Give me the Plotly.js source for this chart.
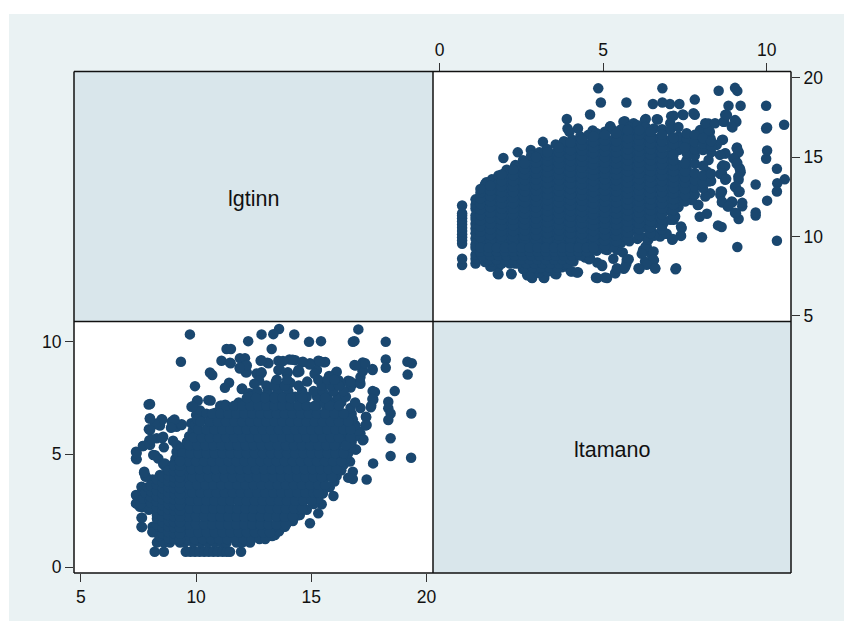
<!DOCTYPE html>
<html><head><meta charset="utf-8">
<script src="https://cdn.plot.ly/plotly-3.0.1.min.js"></script>
<style>html,body{margin:0;padding:0;background:#fff}</style></head>
<body><div id="chart" style="width:844px;height:621px"></div>
<script>
const varNames = ["lgtinn", "ltamano"];
const xTicks = [5, 10, 15, 20];
const yTicks = [0, 5, 10];

// dense core: ltamano level followed by the lgtinn values read at that level
const coreLevels = [0.69,1.1,1.39,1.6,1.8,2.05,2.3,2.55,2.8,3.05,3.3,3.55,3.8,4.05,4.3,4.55,4.8,5.05,5.3,5.55,5.8,6.05,6.3,6.55,6.8,7.05,7.3,7.55,7.8,8.05,8.3];
const coreLgtinn = [
 [8.2,8.6,9.55,9.75,9.95,10.15,10.35,10.55,10.75,10.95,11.15,11.33,11.47,11.95],
 [8.3,8.6,8.86,9.3,9.5,9.88,10.2,10.5,10.8,11.1,11.32,11.76,12.0,12.34],
 [8.4,8.85,9.3,9.8,10.25,10.7,11.15,11.6,12.05,12.5,12.95,13.3],
 [8.45,9.05,9.5,9.95,10.4,10.85,11.3,11.75,12.2,12.65,13.1,13.6],
 [8.4,8.85,9.3,9.75,10.2,10.65,11.1,11.55,12.0,12.45,12.9,13.35,13.85],
 [8.5,9.05,9.5,9.95,10.4,10.85,11.3,11.75,12.2,12.65,13.1,13.55,14.0,14.2],
 [8.3,8.8,9.25,9.7,10.15,10.6,11.05,11.5,11.95,12.4,12.85,13.3,13.75,14.2,14.4],
 [7.95,8.45,9.0,9.45,9.9,10.35,10.8,11.25,11.7,12.15,12.6,13.05,13.5,13.95,14.4,14.8],
 [7.6,8.2,8.75,9.2,9.65,10.1,10.55,11.0,11.45,11.9,12.35,12.8,13.25,13.7,14.15,14.6,15.1],
 [7.7,8.0,8.5,8.95,9.4,9.85,10.3,10.75,11.2,11.65,12.1,12.55,13.0,13.45,13.9,14.35,14.8,15.3],
 [7.8,8.3,8.75,9.2,9.65,10.1,10.55,11.0,11.45,11.9,12.35,12.8,13.25,13.7,14.15,14.6,15.05,15.5],
 [7.9,8.5,8.95,9.4,9.85,10.3,10.75,11.2,11.65,12.1,12.55,13.0,13.45,13.9,14.35,14.8,15.25,15.8],
 [8.25,8.7,9.2,9.65,10.1,10.55,11.0,11.45,11.9,12.35,12.8,13.25,13.7,14.15,14.6,15.05,15.5,16.0],
 [8.6,9.0,9.45,9.9,10.35,10.8,11.25,11.7,12.15,12.6,13.05,13.5,13.95,14.4,14.85,15.3,15.75,16.1],
 [8.9,9.25,9.7,10.15,10.6,11.05,11.5,11.95,12.4,12.85,13.3,13.75,14.2,14.65,15.1,15.55,16.0,16.3],
 [9.0,9.5,9.95,10.4,10.85,11.3,11.75,12.2,12.65,13.1,13.55,14.0,14.45,14.9,15.35,15.8,16.4],
 [9.1,9.3,9.75,10.2,10.65,11.1,11.55,12.0,12.45,12.9,13.35,13.8,14.25,14.7,15.15,15.6,16.05,16.5],
 [9.2,9.55,10.0,10.45,10.9,11.35,11.8,12.25,12.7,13.15,13.6,14.05,14.5,14.95,15.4,15.85,16.3,16.6],
 [9.35,9.8,10.25,10.7,11.15,11.6,12.05,12.5,12.95,13.4,13.85,14.3,14.75,15.2,15.65,16.1,16.7],
 [9.6,10.0,10.45,10.9,11.35,11.8,12.25,12.7,13.15,13.6,14.05,14.5,14.95,15.4,15.85,16.3,16.75],
 [9.7,10.2,10.65,11.1,11.55,12.0,12.45,12.9,13.35,13.8,14.25,14.7,15.15,15.6,16.05,16.5,16.9],
 [9.85,10.4,10.85,11.3,11.75,12.2,12.65,13.1,13.55,14.0,14.45,14.9,15.35,15.8,16.25,16.7,17.0],
 [9.95,10.6,11.05,11.5,11.95,12.4,12.85,13.3,13.75,14.2,14.65,15.1,15.55,16.0,16.45,16.9],
 [10.05,10.8,11.25,11.7,12.15,12.6,13.05,13.5,13.95,14.4,14.85,15.3,15.75,16.2,16.8],
 [10.45,11.0,11.5,11.95,12.4,12.85,13.3,13.75,14.2,14.65,15.1,15.55,16.0,16.4,16.75],
 [11.05,11.6,12.1,12.55,13.0,13.45,13.9,14.35,14.75,15.2,15.65,16.1,16.7],
 [11.85,12.3,12.75,13.2,13.65,14.05,14.5,15.45,15.9,16.3,16.9],
 [12.35,12.9,13.35,13.8,14.3,14.8,15.25,15.7,16.15,16.5],
 [12.65,13.1,13.55,14.0,14.6,15.1,15.5,15.95,16.4],
 [13.05,13.4,13.85,14.45,15.45,15.85,16.2],
 [13.5,13.95,15.3,15.7,16.0]
];

// second pass through the solid area, between the levels above
const fillLevels = [1.25,1.55,1.9,2.25,2.6,2.95,3.3,3.65,4.0,4.35,4.7,5.05,5.4,5.75,6.1,6.45,6.8,7.15,7.5];
const fillLgtinn = [
 [8.9,9.25,9.6,9.95,10.3,10.65,11.0,11.35,11.7,12.05,12.4,12.75,13.0],
 [8.7,9.05,9.4,9.75,10.1,10.45,10.8,11.15,11.5,11.85,12.2,12.55,12.9,13.2],
 [8.6,8.95,9.3,9.65,10.0,10.35,10.7,11.05,11.4,11.75,12.1,12.45,12.8,13.15,13.5,13.9],
 [8.6,8.95,9.3,9.65,10.0,10.35,10.7,11.05,11.4,11.75,12.1,12.45,12.8,13.15,13.5,13.85,14.2],
 [8.3,8.65,9.0,9.35,9.7,10.05,10.4,10.75,11.1,11.45,11.8,12.15,12.5,12.85,13.2,13.55,13.9,14.25,14.6],
 [8.0,8.35,8.7,9.05,9.4,9.75,10.1,10.45,10.8,11.15,11.5,11.85,12.2,12.55,12.9,13.25,13.6,13.95,14.3,14.65,15.0],
 [8.1,8.45,8.8,9.15,9.5,9.85,10.2,10.55,10.9,11.25,11.6,11.95,12.3,12.65,13.0,13.35,13.7,14.05,14.4,14.75,15.1,15.3],
 [8.3,8.65,9.0,9.35,9.7,10.05,10.4,10.75,11.1,11.45,11.8,12.15,12.5,12.85,13.2,13.55,13.9,14.25,14.6,14.95,15.3,15.6],
 [8.8,9.15,9.5,9.85,10.2,10.55,10.9,11.25,11.6,11.95,12.3,12.65,13.0,13.35,13.7,14.05,14.4,14.75,15.1,15.45,15.9],
 [9.1,9.45,9.8,10.15,10.5,10.85,11.2,11.55,11.9,12.25,12.6,12.95,13.3,13.65,14.0,14.35,14.7,15.05,15.4,15.75,16.1],
 [9.3,9.65,10.0,10.35,10.7,11.05,11.4,11.75,12.1,12.45,12.8,13.15,13.5,13.85,14.2,14.55,14.9,15.25,15.6,15.95,16.3],
 [9.4,9.75,10.1,10.45,10.8,11.15,11.5,11.85,12.2,12.55,12.9,13.25,13.6,13.95,14.3,14.65,15.0,15.35,15.7,16.05,16.4],
 [9.7,10.05,10.4,10.75,11.1,11.45,11.8,12.15,12.5,12.85,13.2,13.55,13.9,14.25,14.6,14.95,15.3,15.65,16.0,16.5],
 [9.9,10.25,10.6,10.95,11.3,11.65,12.0,12.35,12.7,13.05,13.4,13.75,14.1,14.45,14.8,15.15,15.5,15.85,16.2,16.7],
 [10.1,10.45,10.8,11.15,11.5,11.85,12.2,12.55,12.9,13.25,13.6,13.95,14.3,14.65,15.0,15.35,15.7,16.05,16.4,16.7],
 [10.2,10.6,10.95,11.3,11.65,12.0,12.35,12.7,13.05,13.4,13.75,14.1,14.45,14.8,15.15,15.5,15.85,16.2,16.6],
 [10.7,11.05,11.4,11.75,12.1,12.45,12.8,13.15,13.5,13.85,14.2,14.55,14.9,15.25,15.6,16.0,16.4],
 [11.3,11.65,12.0,12.35,12.7,13.05,13.4,13.75,14.1,14.45,14.8,15.15,15.8,16.2],
 [12.2,12.6,13.0,13.4,13.75,14.1,14.6,15.6]
];

// lower-left edge of the cloud, read by lgtinn column
const edgeLgtinn = [8.05,8.3,8.55,8.8,9.05,9.3];
const edgeLtamano = [
 [2.6,2.85,3.1,3.35,3.6],
 [1.9,2.15,2.4,2.65,2.9,3.15,3.4,3.65,3.9],
 [1.5,1.75,2.0,2.25,2.5,2.75,3.0,3.25,3.5,3.75,4.0],
 [1.3,1.55,1.8,2.05,2.3,2.55,2.8,3.05,3.3,3.55,3.8,4.05,4.3],
 [1.25,1.5,1.75,2.0,2.25,2.5,2.75,3.0,3.25,3.5,3.75,4.0,4.25,4.5],
 [1.25,1.5,1.75,2.0,2.25,2.5,2.75,3.0,3.25,3.5,3.75,4.0,4.25,4.5,4.7]
];

// separate points read one by one around the core
const looseLgtinn = [9.73,9.34,7.94,9.95,13.6,13.35,12.84,14.26,12.26,14.9,15.42,17.04,16.8,16.87,18.23,18.23,18.23,19.17,19.36,19.18,19.34,19.33,18.44,18.44,18.62,18.34,18.34,18.44,18.34,17.68,17.4,16.68,16.8,16.8,16.6,15.96,15.49,15.45,15.16,15.3,14.94,14.5,13.93,13.78,13.42,12.7,7.39,7.39,7.7,7.97,8.29,8.57,7.95,7.99,8.29,8.5,8.6,9.0,8.94,9.15,9.37,8.14,8.36,8.57,8.68,7.75,7.81,8.43,7.63,7.39,7.39,7.56,7.63,7.63,8.11,8.11,9.15,10.07,9.8,10.17,10.53,10.7,10.6,11.1,11.47,11.32,11.51,11.9,12.12,12.16,11.9,12.15,11.43,11.25,11.98,11.1,13.28,12.8,13.09,12.84,12.63,13.57,14.05,14.3,14.63,14.94,15.3,15.6,13.57,13.93,14.48,15.23,16.1,16.87,17.23,17.23,17.66,17.66,17.69,17.58,17.37,17.4,17.26,16.94,16.82,16.6,17.11,16.08,15.77,15.24,15.14,15.55,15.35,14.93,14.6,14.19,13.77,13.14,12.83,14.4,14.44,13.98,13.63,12.83,12.2,12.2,11.89,11.5,12.73,12.52,12.0,12.3,13.46,13.77,14.09,14.82,16.18,16.29,16.7,16.7,17.13,17.13,17.23,17.65,17.33,16.92,17.76,17.65,17.6,17.13,17.38,17.34,17.13,17.23,16.92,9.37,9.06,8.43,8.53,8.22,8.91,9.16,8.53,8.64,8.11,8.07,7.69,8.11,11.26,11.05,10.84,10.2,9.79,10.0,10.04,10.63,10.17,9.85,8.0,8.0,8.0,7.42,7.42,7.69,8.0,8.07,8.22,7.8,7.74,7.42,7.42,7.65,7.65,7.65];
const looseLtamano = [10.31,9.10,7.21,8.02,10.55,10.32,10.31,10.31,10.01,9.98,10.01,10.53,9.98,10.01,9.98,9.2,8.83,9.1,9.03,8.53,6.81,4.85,4.93,5.71,7.8,7.33,7.04,6.81,6.52,4.6,3.89,4.68,4.23,3.91,3.97,3.16,3.27,2.79,2.86,2.39,1.95,2.32,1.95,1.8,1.43,1.4,5.12,4.82,5.37,5.63,5.71,5.78,6.11,6.59,6.37,6.55,5.31,5.6,6.45,6.22,6.3,4.97,4.82,4.57,4.45,4.23,4.01,4.09,3.57,3.2,2.83,2.68,2.2,1.8,1.8,1.58,5.12,7.37,7.11,6.89,7.4,8.51,8.62,9.14,9.06,9.66,9.66,9.25,9.25,8.95,8.8,8.63,8.17,7.95,7.89,7.15,9.66,9.14,9.06,8.63,8.58,9.14,9.2,9.17,9.1,9.03,9.14,9.09,8.73,8.58,8.66,8.73,8.66,8.95,9.07,8.7,8.73,7.8,7.43,7.08,6.67,6.3,5.66,5.22,8.14,8.26,8.22,8.63,8.47,8.73,8.57,9.08,9.13,8.98,9.08,9.19,9.13,9.03,9.17,8.63,8.73,8.63,8.76,8.59,8.63,8.93,8.83,9.03,8.27,8.12,7.91,7.71,8.22,8.02,8.17,8.22,8.28,8.12,7.96,8.22,8.12,8.42,8.68,8.78,9.03,8.93,7.76,7.45,7.15,7.05,6.64,6.28,5.93,5.62,5.21,6.33,6.54,6.28,6.54,6.33,6.18,5.42,5.72,4.6,3.89,3.74,2.67,1.55,7.2,7.15,6.84,6.54,6.38,6.74,7.38,7.38,6.94,7.13,7.23,6.59,6.08,4.78,5.06,5.37,5.42,5.67,4.96,4.04,4.2,2.82,3.18,3.53,2.19,1.78];

const lgtinn = looseLgtinn.slice();
const ltamano = looseLtamano.slice();
coreLevels.forEach((lvl, i) => coreLgtinn[i].forEach(v => { lgtinn.push(v); ltamano.push(lvl); }));
fillLevels.forEach((lvl, i) => fillLgtinn[i].forEach(v => { lgtinn.push(v); ltamano.push(lvl); }));
edgeLgtinn.forEach((v, i) => edgeLtamano[i].forEach(lvl => { lgtinn.push(v); ltamano.push(lvl); }));

const W = 844, H = 621;
const L = 74, M = 433, R = 791, T = 71.5, C = 321.5, B = 573;
const px = v => v / W, py = v => 1 - v / H;
const ink = "#1a476f", bg = "#eaf2f3", diag = "#d9e6eb", frame = "#111";
const fontFamily = "Liberation Sans, Arial, sans-serif";
const tickFont = {family: fontFamily, size: 17.5, color: "#111"};

const axisBase = {
  showgrid: false, zeroline: false, showline: false,
  ticks: "outside", ticklen: 8, tickwidth: 1, tickcolor: "#333", tickfont: tickFont, tickmode: "array"
};

const marker = {color: ink, size: 10.5, line: {width: 0}};
const data = [
  {type: "scatter", mode: "markers", x: lgtinn, y: ltamano, xaxis: "x", yaxis: "y", marker: marker, hoverinfo: "skip"},
  {type: "scatter", mode: "markers", x: ltamano, y: lgtinn, xaxis: "x2", yaxis: "y2", marker: marker, hoverinfo: "skip"}
];

const panel = (x0, x1, y0, y1, fill) => ({type: "rect", xref: "paper", yref: "paper", layer: "below",
  x0: px(x0), x1: px(x1), y0: py(y0), y1: py(y1), fillcolor: fill, line: {width: 0}});
const rule = (x0, x1, y0, y1) => ({type: "line", xref: "paper", yref: "paper", layer: "above",
  x0: px(x0), x1: px(x1), y0: py(y0), y1: py(y1), line: {color: frame, width: 1.5}});

const layout = {
  width: W, height: H, margin: {l: 0, r: 0, t: 0, b: 0}, paper_bgcolor: "#fff", plot_bgcolor: "rgba(0,0,0,0)",
  showlegend: false,
  xaxis: Object.assign({}, axisBase, {domain: [px(L), px(M)], range: [4.70, 20.28], anchor: "y", side: "bottom", tickvals: xTicks, ticktext: xTicks.map(String)}),
  yaxis: Object.assign({}, axisBase, {domain: [py(B), py(C)], range: [-0.25, 10.88], anchor: "x", side: "left", tickvals: yTicks, ticktext: yTicks.map(String)}),
  xaxis2: Object.assign({}, axisBase, {domain: [px(M), px(R)], range: [-0.2, 10.74], anchor: "y2", side: "top", tickvals: yTicks, ticktext: yTicks.map(String)}),
  yaxis2: Object.assign({}, axisBase, {domain: [py(C), py(T)], range: [4.65, 20.39], anchor: "x2", side: "right", tickvals: xTicks, ticktext: xTicks.map(String)}),
  shapes: [
    panel(9, W, 14, H, bg),
    panel(L, M, T, C, diag),
    panel(M, R, C, B, diag),
    panel(M, R, T, C, "#fff"),
    panel(L, M, C, B, "#fff"),
    rule(L, R, T, T), rule(L, R, C, C), rule(L, R, B, B),
    rule(L, L, T, B), rule(M, M, T, B), rule(R, R, T, B)
  ],
  annotations: [
    {xref: "paper", yref: "paper", x: px(253.5), y: py(199), xanchor: "center", yanchor: "middle", text: varNames[0], showarrow: false, font: {family: fontFamily, size: 21.5, color: "#111"}},
    {xref: "paper", yref: "paper", x: px(612), y: py(450), xanchor: "center", yanchor: "middle", text: varNames[1], showarrow: false, font: {family: fontFamily, size: 21.5, color: "#111"}}
  ]
};
Plotly.newPlot("chart", data, layout, {displayModeBar: false, staticPlot: true});
</script></body></html>
